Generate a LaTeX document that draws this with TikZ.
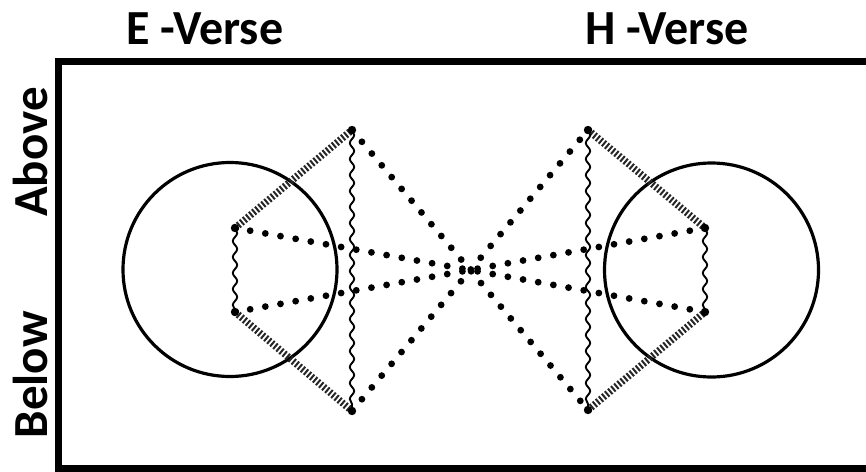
\documentclass[tikz,border=0pt]{standalone}
\usepackage{fontspec}
\setmainfont{Carlito}
\usetikzlibrary{decorations.pathmorphing}
\tikzset{
  pt/.style={circle,fill=black,inner sep=0pt,minimum size=4.2pt},
  dotline/.style={line width=3.4pt,line cap=round,dash pattern=on 0pt off 7.7pt},
  hatch/.style={line width=3.6pt,draw=black!85,dash pattern=on 1pt off 1pt},
  wave/.style={line width=0.95pt,decorate,decoration={snake,amplitude=1.1pt,segment length=8pt}},
  ring/.style={line width=1.6pt},
  title/.style={font=\bfseries\fontsize{24.5}{28}\selectfont,inner sep=0pt}
}
\begin{document}
\begin{tikzpicture}[x=0.5pt,y=-0.5pt]
\useasboundingbox (0,0) rectangle (866,471);
\begin{scope}
\clip (0,0) rectangle (866,471);
\draw[line width=3.5pt] (900,61.5) -- (58.5,61.5) -- (58.5,468) -- (900,468);
\end{scope}
\node[title,anchor=base,xscale=0.98] (e) at (205,44) {E -Verse};
\node[title,anchor=base,xscale=0.98] (h) at (667,44) {H -Verse};
\node[title,anchor=base,rotate=90] (ab) at (47,152) {Above};
\node[title,anchor=base,rotate=90] (be) at (47,375) {Below};
\draw[ring] (230,269.5) circle (107);
\draw[ring] (711.5,270) circle (107);
\coordinate (a1) at (235,228);
\coordinate (a2) at (235,312);
\coordinate (b1) at (352,130);
\coordinate (b2) at (352,411);
\coordinate (c1) at (588,130);
\coordinate (c2) at (588,410);
\coordinate (d1) at (705,228);
\coordinate (d2) at (705,312);
\draw[hatch] (a1) -- (b1);
\draw[hatch] (a2) -- (b2);
\draw[hatch] (c1) -- (d1);
\draw[hatch] (c2) -- (d2);
\draw[wave] (a1) -- (a2);
\draw[wave] (b1) -- (b2);
\draw[wave] (c1) -- (c2);
\draw[wave] (d1) -- (d2);
\draw[dotline] (a1) -- (d2);
\draw[dotline] (a2) -- (d1);
\draw[dotline] (b1) -- (c2);
\draw[dotline] (b2) -- (c1);
\foreach \p in {a1,a2,b1,b2,c1,c2,d1,d2} \node[pt] (n\p) at (\p) {};
\end{tikzpicture}
\end{document}
